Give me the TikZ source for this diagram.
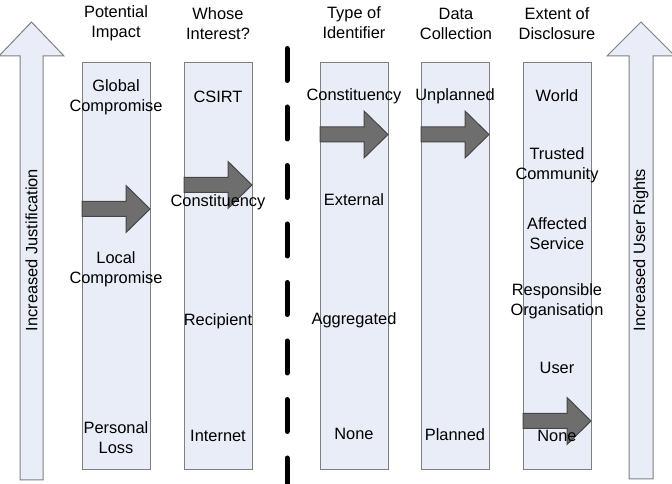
\documentclass[tikz,border=0pt]{standalone}
\usepackage{fontspec}
\setmainfont{Liberation Sans}
\definecolor{colfill}{RGB}{233,237,247}
\definecolor{colborder}{RGB}{128,128,128}
\definecolor{arrfill}{RGB}{110,110,110}
\definecolor{arrborder}{RGB}{70,70,70}
\newcommand\fatarrow[3]{%
  \draw[fatarr] (#1,#3-7.5) -- (#2-24,#3-7.5) -- (#2-24,#3-23.5) -- (#2,#3)
    -- (#2-24,#3+23.5) -- (#2-24,#3+7.5) -- (#1,#3+7.5) -- cycle;}
\begin{document}
\begin{tikzpicture}[x=0.75pt,y=-0.75pt,
  col/.style={draw=colborder, fill=colfill, line width=0.75pt, inner sep=0pt,
    minimum width=51pt, minimum height=305.25pt},
  bigarr/.style={draw=colborder, fill=colfill, line width=0.75pt},
  fatarr/.style={draw=arrborder, fill=arrfill, line width=0.75pt},
  lbl/.style={align=center, inner sep=0pt, font=\fontsize{12.3}{15}\selectfont},
  divider/.style={line width=3.75pt, line cap=round, dash pattern=on 24pt off 19.875pt}]
\useasboundingbox (0,0) rectangle (672,484);

% big arrows
\draw[bigarr] (20,480) -- (20,56) -- (-1,56) -- (31.5,22) -- (64,56) -- (43,56) -- (43,480) -- cycle;
\draw[bigarr] (629,479) -- (629,56) -- (607,56) -- (641,22) -- (675,56) -- (653,56) -- (653,479) -- cycle;
\node[lbl, rotate=90] (ljust) at (31.5,250) {Increased Justification};
\node[lbl, rotate=90] (rrights) at (641,250) {Increased User Rights};

% columns
\node[col] (c1) at (116,266.5) {};
\node[col] (c2) at (218,266.5) {};
\node[col] (c3) at (354,266.5) {};
\node[col] (c4) at (455,266.5) {};
\node[col] (c5) at (557,266.5) {};

% divider
\coordinate (dtop) at (287,48.5);
\coordinate (dbot) at (287,492);
\draw[divider] (dtop) -- (dbot);

% gray arrows
\fatarrow{82}{150}{209}
\fatarrow{184}{252}{185}
\fatarrow{320}{388}{134.5}
\fatarrow{421}{489}{134.5}
\fatarrow{523}{591}{421}

% headers
\node[lbl] (h1) at (116,23.5) {Potential\\Impact};
\node[lbl] (h2) at (218,23.5) {Whose\\Interest?};
\node[lbl] (h3) at (354,22.5) {Type of\\Identifier};
\node[lbl] (h4) at (456,23.5) {Data\\Collection};
\node[lbl] (h5) at (557,23.5) {Extent of\\Disclosure};

% column 1
\node[lbl] (c1a) at (116,97.5) {Global\\Compromise};
\node[lbl] (c1b) at (116,269.5) {Local\\Compromise};
\node[lbl] (c1c) at (116,437.5) {Personal\\Loss};
% column 2
\node[lbl] (c2a) at (218,97) {CSIRT};
\node[lbl] (c2b) at (218,202) {Constituency};
\node[lbl] (c2c) at (218,321) {Recipient};
\node[lbl] (c2d) at (218,436) {Internet};
% column 3
\node[lbl] (c3a) at (354,96) {Constituency};
\node[lbl] (c3b) at (354,200) {External};
\node[lbl] (c3c) at (354,320) {Aggregated};
\node[lbl] (c3d) at (354,434) {None};
% column 4
\node[lbl] (c4a) at (455,96) {Unplanned};
\node[lbl] (c4b) at (455,435) {Planned};
% column 5
\node[lbl] (c5a) at (557,96) {World};
\node[lbl] (c5b) at (557,165.5) {Trusted\\Community};
\node[lbl] (c5c) at (557,233.5) {Affected\\Service};
\node[lbl] (c5d) at (557,301.5) {Responsible\\Organisation};
\node[lbl] (c5e) at (557,368) {User};
\node[lbl] (c5f) at (557,436) {None};
\end{tikzpicture}
\end{document}
